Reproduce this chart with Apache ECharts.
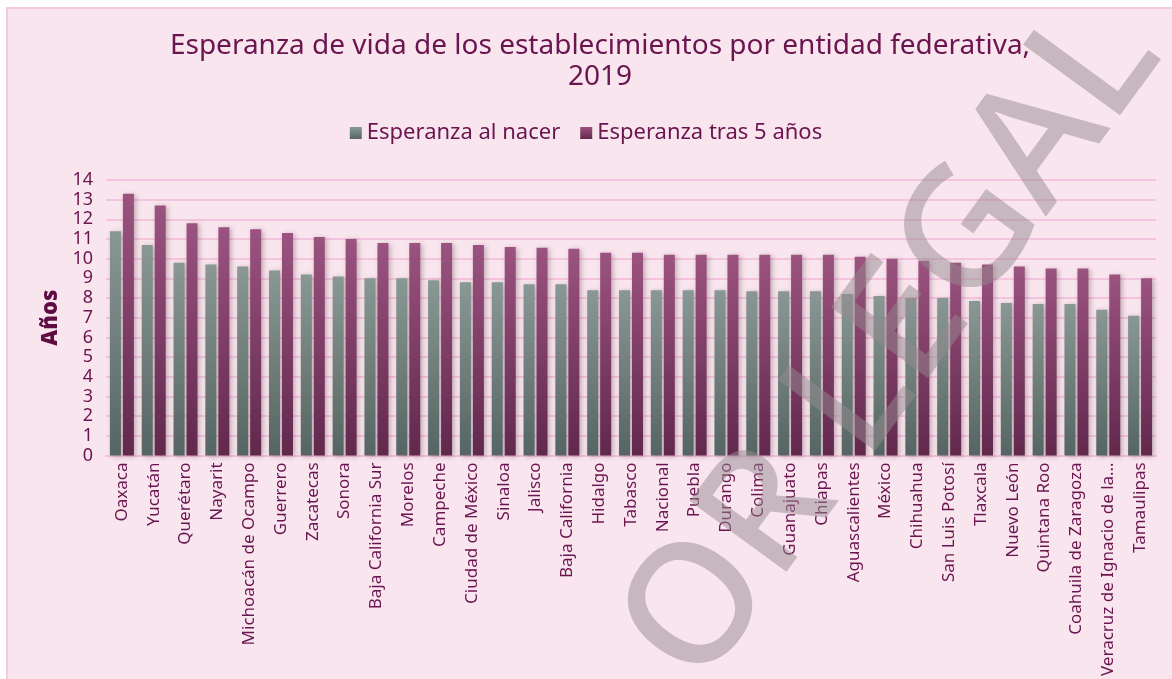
<!DOCTYPE html>
<html>
<head>
<meta charset="utf-8">
<script src="https://cdn.jsdelivr.net/npm/echarts@6/dist/echarts.min.js"></script>
<style>
  body { margin: 0; background: #ffffff; }
  #box { position: absolute; left: 6px; top: 7px; width: 1170px; height: 680px; background: #f9e5ed; border: 2px solid #f6c9e2; box-sizing: border-box; }
  #main { position: absolute; left: 0; top: 0; width: 1172px; height: 679px; }
</style>
</head>
<body>
<div id="box"></div>
<div id="main"></div>
<script>
// entidades, ordenadas como en la gráfica
var entidades = ['Oaxaca', 'Yucatán', 'Querétaro', 'Nayarit', 'Michoacán de Ocampo', 'Guerrero', 'Zacatecas', 'Sonora',
  'Baja California Sur', 'Morelos', 'Campeche', 'Ciudad de México', 'Sinaloa', 'Jalisco', 'Baja California', 'Hidalgo',
  'Tabasco', 'Nacional', 'Puebla', 'Durango', 'Colima', 'Guanajuato', 'Chiapas', 'Aguascalientes', 'México', 'Chihuahua',
  'San Luis Potosí', 'Tlaxcala', 'Nuevo León', 'Quintana Roo', 'Coahuila de Zaragoza', 'Veracruz de Ignacio de la…', 'Tamaulipas'];

var alNacer = [11.4, 10.7, 9.8, 9.7, 9.6, 9.4, 9.2, 9.1, 9.0, 9.0, 8.9, 8.8, 8.8, 8.7, 8.7, 8.4,
  8.4, 8.4, 8.4, 8.4, 8.35, 8.35, 8.35, 8.2, 8.1, 8.0, 8.0, 7.85, 7.75, 7.7, 7.7, 7.4, 7.1];

var tras5 = [13.3, 12.7, 11.8, 11.6, 11.5, 11.3, 11.1, 11.0, 10.8, 10.8, 10.8, 10.7, 10.6, 10.55, 10.5, 10.3,
  10.3, 10.2, 10.2, 10.2, 10.2, 10.2, 10.2, 10.1, 10.0, 9.9, 9.8, 9.7, 9.6, 9.5, 9.5, 9.2, 9.0];

var yTicks = [0, 14, 1]; // min, max, intervalo

var morado = '#6a1450';
var chart = echarts.init(document.getElementById('main'));

var option = {
  title: {
    text: 'Esperanza de vida de los establecimientos por entidad federativa,\n2019',
    left: 595,
    top: 26,
    textAlign: 'center',
    textStyle: { fontFamily: 'Noto Sans', fontSize: 28, fontWeight: 'normal', color: morado, lineHeight: 31, align: 'center' }
  },
  legend: {
    top: 117,
    left: 'center',
    itemWidth: 12,
    itemHeight: 12,
    itemGap: 20,
    icon: 'rect',
    textStyle: { fontFamily: 'Noto Sans', fontSize: 22, color: morado }
  },
  grid: { left: 106, right: 16, top: 180, bottom: 221, containLabel: false },
  xAxis: {
    type: 'category',
    data: entidades,
    axisTick: { show: false },
    axisLine: { lineStyle: { color: '#f4bfdc', width: 2 } },
    axisLabel: { rotate: 90, interval: 0, margin: 7, fontFamily: 'Noto Sans', fontSize: 17, color: morado }
  },
  yAxis: {
    type: 'value',
    min: yTicks[0],
    max: yTicks[1],
    interval: yTicks[2],
    name: 'Años',
    nameLocation: 'middle',
    nameGap: 44,
    nameTextStyle: { fontFamily: 'Noto Sans', fontSize: 22, fontWeight: 900, color: '#5e0d42' },
    axisLabel: { margin: 13, fontFamily: 'Noto Sans', fontSize: 18, color: morado },
    splitLine: { lineStyle: { color: '#f4c3de', width: 2 } }
  },
  series: [
    {
      name: 'Esperanza al nacer',
      type: 'bar',
      data: alNacer,
      barWidth: 11,
      barGap: '18%',
      itemStyle: {
        color: new echarts.graphic.LinearGradient(0, 0, 0, 1, [
          { offset: 0, color: '#899894' },
          { offset: 1, color: '#556563' }
        ]),
        shadowColor: 'rgba(60,30,50,0.3)',
        shadowBlur: 5,
        shadowOffsetX: 2,
        shadowOffsetY: 1
      }
    },
    {
      name: 'Esperanza tras 5 años',
      type: 'bar',
      data: tras5,
      barWidth: 11,
      itemStyle: {
        color: new echarts.graphic.LinearGradient(0, 0, 0, 1, [
          { offset: 0, color: '#9b537f' },
          { offset: 1, color: '#61284c' }
        ]),
        shadowColor: 'rgba(60,30,50,0.3)',
        shadowBlur: 5,
        shadowOffsetX: 2,
        shadowOffsetY: 1
      }
    }
  ],
  graphic: [
    {
      type: 'text',
      x: 893,
      y: 345,
      rotation: 0.94,
      z: 100,
      silent: true,
      style: {
        text: 'OR LEGAL',
        font: '500 168px "Noto Sans"',
        fill: 'rgba(150,138,144,0.5)',
        textAlign: 'center',
        textVerticalAlign: 'middle'
      }
    }
  ]
};

chart.setOption(option);
</script>
</body>
</html>
